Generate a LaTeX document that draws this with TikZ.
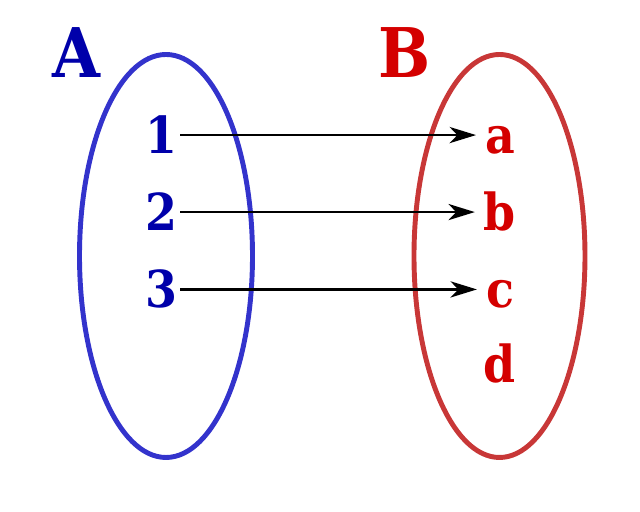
\documentclass[tikz,border=0pt]{standalone}
\usepackage{fontspec}
\setmainfont{DejaVu Serif Condensed}
\usepackage{xcolor}
\usepackage{tikz}
\usetikzlibrary{positioning,arrows.meta}

\definecolor{setblue}{RGB}{51,51,204}
\definecolor{textblue}{RGB}{0,0,170}
\definecolor{setred}{RGB}{200,55,55}
\definecolor{textred}{RGB}{212,0,0}

\begin{document}
\begin{tikzpicture}[elem/.style={inner sep=0.8pt,anchor=base,font=\fontsize{14.5}{17}\selectfont\bfseries},
  setname/.style={inner sep=0pt,anchor=base,font=\fontsize{19.5}{23}\selectfont\bfseries},
  map/.style={-{Stealth[length=7.5pt,width=4.6pt,inset=2.2pt]},line width=0.75pt,shorten >=1.6pt}]
  \useasboundingbox (0,0) rectangle (6.4,5.12);
  % the two sets
  \draw[setblue,line width=1.4pt] (1.66,2.56) ellipse [x radius=0.865,y radius=2.015];
  \draw[setred,line width=1.4pt] (4.995,2.56) ellipse [x radius=0.855,y radius=2.015];
  \node[setname,textblue] (A) at (0.765,4.34) {A};
  \node[setname,textred]  (B) at (4.05,4.34)  {B};
  % domain
  \node[elem,textblue] (n1) at (1.61,3.58) {1};
  \node[elem,textblue] (n2) [below=7.7mm of n1.base,anchor=base] {2};
  \node[elem,textblue] (n3) [below=7.7mm of n2.base,anchor=base] {3};
  % codomain
  \node[elem,textred] (la) [right=3.39cm of n1.base,anchor=base] {a};
  \node[elem,textred] (lb) [right=3.39cm of n2.base,anchor=base] {b};
  \node[elem,textred] (lc) [right=3.39cm of n3.base,anchor=base] {c};
  \node[elem,textred] (ld) [below=7.5mm of lc.base,anchor=base] {d};
  \draw[map] (n1.east) -- (n1.east -| la.west);
  \draw[map] (n2.east) -- (n2.east -| lb.west);
  \draw[map] (n3.east) -- (n3.east -| lc.west);
\end{tikzpicture}
\end{document}
